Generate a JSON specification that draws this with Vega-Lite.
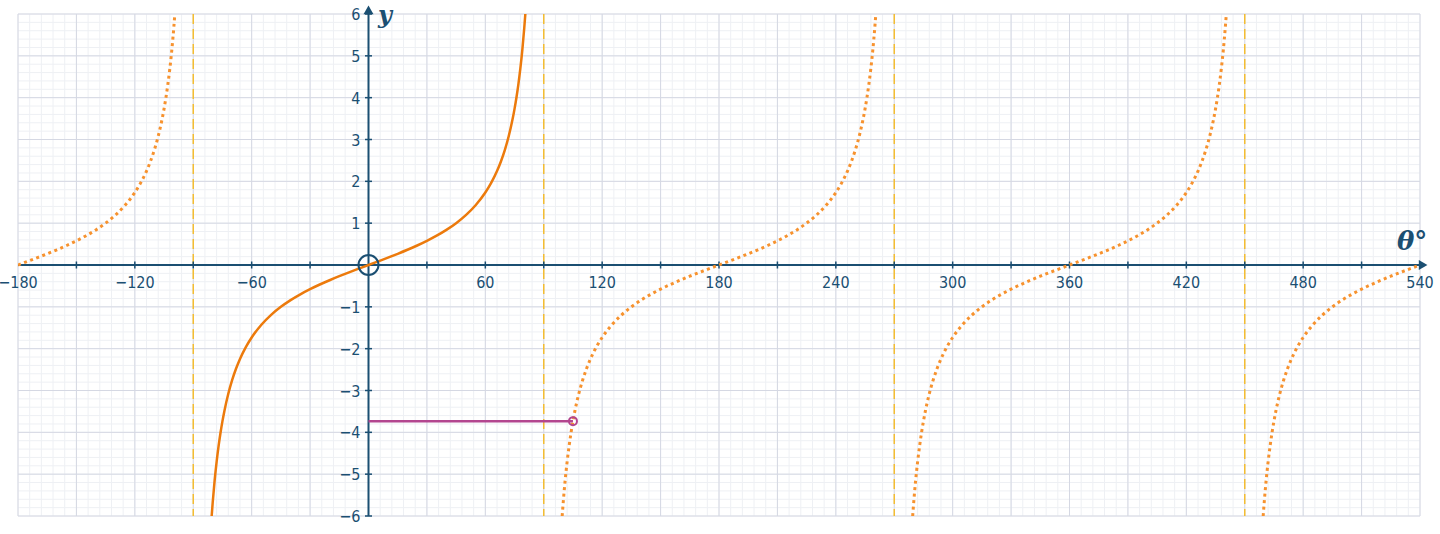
{
  "$schema": "https://vega.github.io/schema/vega-lite/v6.json",
  "width": 1402,
  "height": 502,
  "autosize": {"type": "none"},
  "padding": {"left": 18, "top": 14, "right": 20, "bottom": 18},
  "background": "#ffffff",
  "config": {"view": {"stroke": null}},
  "datasets": {
    "curves": [
      {"x": -180, "y": 0, "b": "A"}, {"x": -175, "y": 0.0875, "b": "A"}, {"x": -170, "y": 0.1763, "b": "A"}, {"x": -165, "y": 0.2679, "b": "A"}, {"x": -160, "y": 0.364, "b": "A"}, {"x": -155, "y": 0.4663, "b": "A"}, {"x": -150, "y": 0.5774, "b": "A"}, {"x": -145, "y": 0.7002, "b": "A"}, {"x": -140, "y": 0.8391, "b": "A"}, {"x": -135, "y": 1, "b": "A"}, {"x": -130, "y": 1.1918, "b": "A"}, {"x": -125, "y": 1.4281, "b": "A"}, {"x": -120, "y": 1.7321, "b": "A"}, {"x": -117, "y": 1.9626, "b": "A"}, {"x": -114, "y": 2.246, "b": "A"}, {"x": -112, "y": 2.4751, "b": "A"}, {"x": -110, "y": 2.7475, "b": "A"}, {"x": -108, "y": 3.0777, "b": "A"}, {"x": -106, "y": 3.4874, "b": "A"}, {"x": -105, "y": 3.7321, "b": "A"}, {"x": -104, "y": 4.0108, "b": "A"}, {"x": -103, "y": 4.3315, "b": "A"}, {"x": -102, "y": 4.7046, "b": "A"}, {"x": -101, "y": 5.1446, "b": "A"}, {"x": -100, "y": 5.6713, "b": "A"}, {"x": -99.5, "y": 5.9758, "b": "A"}, {"x": -99, "y": 6.3138, "b": "A"},
      {"x": 99, "y": -6.3138, "b": "B"}, {"x": 99.5, "y": -5.9758, "b": "B"}, {"x": 100, "y": -5.6713, "b": "B"}, {"x": 101, "y": -5.1446, "b": "B"}, {"x": 102, "y": -4.7046, "b": "B"}, {"x": 103, "y": -4.3315, "b": "B"}, {"x": 104, "y": -4.0108, "b": "B"}, {"x": 105, "y": -3.7321, "b": "B"}, {"x": 106, "y": -3.4874, "b": "B"}, {"x": 108, "y": -3.0777, "b": "B"}, {"x": 110, "y": -2.7475, "b": "B"}, {"x": 112, "y": -2.4751, "b": "B"}, {"x": 114, "y": -2.246, "b": "B"}, {"x": 117, "y": -1.9626, "b": "B"}, {"x": 120, "y": -1.7321, "b": "B"}, {"x": 125, "y": -1.4281, "b": "B"}, {"x": 130, "y": -1.1918, "b": "B"}, {"x": 135, "y": -1, "b": "B"}, {"x": 140, "y": -0.8391, "b": "B"}, {"x": 145, "y": -0.7002, "b": "B"}, {"x": 150, "y": -0.5774, "b": "B"}, {"x": 155, "y": -0.4663, "b": "B"}, {"x": 160, "y": -0.364, "b": "B"}, {"x": 165, "y": -0.2679, "b": "B"}, {"x": 170, "y": -0.1763, "b": "B"}, {"x": 175, "y": -0.0875, "b": "B"}, {"x": 180, "y": 0, "b": "B"}, {"x": 185, "y": 0.0875, "b": "B"}, {"x": 190, "y": 0.1763, "b": "B"}, {"x": 195, "y": 0.2679, "b": "B"}, {"x": 200, "y": 0.364, "b": "B"}, {"x": 205, "y": 0.4663, "b": "B"}, {"x": 210, "y": 0.5774, "b": "B"}, {"x": 215, "y": 0.7002, "b": "B"}, {"x": 220, "y": 0.8391, "b": "B"}, {"x": 225, "y": 1, "b": "B"}, {"x": 230, "y": 1.1918, "b": "B"}, {"x": 235, "y": 1.4281, "b": "B"}, {"x": 240, "y": 1.7321, "b": "B"}, {"x": 243, "y": 1.9626, "b": "B"}, {"x": 246, "y": 2.246, "b": "B"}, {"x": 248, "y": 2.4751, "b": "B"}, {"x": 250, "y": 2.7475, "b": "B"}, {"x": 252, "y": 3.0777, "b": "B"}, {"x": 254, "y": 3.4874, "b": "B"}, {"x": 255, "y": 3.7321, "b": "B"}, {"x": 256, "y": 4.0108, "b": "B"}, {"x": 257, "y": 4.3315, "b": "B"}, {"x": 258, "y": 4.7046, "b": "B"}, {"x": 259, "y": 5.1446, "b": "B"}, {"x": 260, "y": 5.6713, "b": "B"}, {"x": 260.5, "y": 5.9758, "b": "B"}, {"x": 261, "y": 6.3138, "b": "B"},
      {"x": 279, "y": -6.3138, "b": "C"}, {"x": 279.5, "y": -5.9758, "b": "C"}, {"x": 280, "y": -5.6713, "b": "C"}, {"x": 281, "y": -5.1446, "b": "C"}, {"x": 282, "y": -4.7046, "b": "C"}, {"x": 283, "y": -4.3315, "b": "C"}, {"x": 284, "y": -4.0108, "b": "C"}, {"x": 285, "y": -3.7321, "b": "C"}, {"x": 286, "y": -3.4874, "b": "C"}, {"x": 288, "y": -3.0777, "b": "C"}, {"x": 290, "y": -2.7475, "b": "C"}, {"x": 292, "y": -2.4751, "b": "C"}, {"x": 294, "y": -2.246, "b": "C"}, {"x": 297, "y": -1.9626, "b": "C"}, {"x": 300, "y": -1.7321, "b": "C"}, {"x": 305, "y": -1.4281, "b": "C"}, {"x": 310, "y": -1.1918, "b": "C"}, {"x": 315, "y": -1, "b": "C"}, {"x": 320, "y": -0.8391, "b": "C"}, {"x": 325, "y": -0.7002, "b": "C"}, {"x": 330, "y": -0.5774, "b": "C"}, {"x": 335, "y": -0.4663, "b": "C"}, {"x": 340, "y": -0.364, "b": "C"}, {"x": 345, "y": -0.2679, "b": "C"}, {"x": 350, "y": -0.1763, "b": "C"}, {"x": 355, "y": -0.0875, "b": "C"}, {"x": 360, "y": 0, "b": "C"}, {"x": 365, "y": 0.0875, "b": "C"}, {"x": 370, "y": 0.1763, "b": "C"}, {"x": 375, "y": 0.2679, "b": "C"}, {"x": 380, "y": 0.364, "b": "C"}, {"x": 385, "y": 0.4663, "b": "C"}, {"x": 390, "y": 0.5774, "b": "C"}, {"x": 395, "y": 0.7002, "b": "C"}, {"x": 400, "y": 0.8391, "b": "C"}, {"x": 405, "y": 1, "b": "C"}, {"x": 410, "y": 1.1918, "b": "C"}, {"x": 415, "y": 1.4281, "b": "C"}, {"x": 420, "y": 1.7321, "b": "C"}, {"x": 423, "y": 1.9626, "b": "C"}, {"x": 426, "y": 2.246, "b": "C"}, {"x": 428, "y": 2.4751, "b": "C"}, {"x": 430, "y": 2.7475, "b": "C"}, {"x": 432, "y": 3.0777, "b": "C"}, {"x": 434, "y": 3.4874, "b": "C"}, {"x": 435, "y": 3.7321, "b": "C"}, {"x": 436, "y": 4.0108, "b": "C"}, {"x": 437, "y": 4.3315, "b": "C"}, {"x": 438, "y": 4.7046, "b": "C"}, {"x": 439, "y": 5.1446, "b": "C"}, {"x": 440, "y": 5.6713, "b": "C"}, {"x": 440.5, "y": 5.9758, "b": "C"}, {"x": 441, "y": 6.3138, "b": "C"},
      {"x": 459, "y": -6.3138, "b": "D"}, {"x": 459.5, "y": -5.9758, "b": "D"}, {"x": 460, "y": -5.6713, "b": "D"}, {"x": 461, "y": -5.1446, "b": "D"}, {"x": 462, "y": -4.7046, "b": "D"}, {"x": 463, "y": -4.3315, "b": "D"}, {"x": 464, "y": -4.0108, "b": "D"}, {"x": 465, "y": -3.7321, "b": "D"}, {"x": 466, "y": -3.4874, "b": "D"}, {"x": 468, "y": -3.0777, "b": "D"}, {"x": 470, "y": -2.7475, "b": "D"}, {"x": 472, "y": -2.4751, "b": "D"}, {"x": 474, "y": -2.246, "b": "D"}, {"x": 477, "y": -1.9626, "b": "D"}, {"x": 480, "y": -1.7321, "b": "D"}, {"x": 485, "y": -1.4281, "b": "D"}, {"x": 490, "y": -1.1918, "b": "D"}, {"x": 495, "y": -1, "b": "D"}, {"x": 500, "y": -0.8391, "b": "D"}, {"x": 505, "y": -0.7002, "b": "D"}, {"x": 510, "y": -0.5774, "b": "D"}, {"x": 515, "y": -0.4663, "b": "D"}, {"x": 520, "y": -0.364, "b": "D"}, {"x": 525, "y": -0.2679, "b": "D"}, {"x": 530, "y": -0.1763, "b": "D"}, {"x": 535, "y": -0.0875, "b": "D"}, {"x": 540, "y": 0, "b": "D"}
    ],
    "main": [
      {"x": -81, "y": -6.3138}, {"x": -80.5, "y": -5.9758}, {"x": -80, "y": -5.6713}, {"x": -79, "y": -5.1446}, {"x": -78, "y": -4.7046}, {"x": -77, "y": -4.3315}, {"x": -76, "y": -4.0108}, {"x": -75, "y": -3.7321}, {"x": -74, "y": -3.4874}, {"x": -72, "y": -3.0777}, {"x": -70, "y": -2.7475}, {"x": -68, "y": -2.4751}, {"x": -66, "y": -2.246}, {"x": -63, "y": -1.9626}, {"x": -60, "y": -1.7321}, {"x": -55, "y": -1.4281}, {"x": -50, "y": -1.1918}, {"x": -45, "y": -1}, {"x": -40, "y": -0.8391}, {"x": -35, "y": -0.7002}, {"x": -30, "y": -0.5774}, {"x": -25, "y": -0.4663}, {"x": -20, "y": -0.364}, {"x": -15, "y": -0.2679}, {"x": -10, "y": -0.1763}, {"x": -5, "y": -0.0875}, {"x": 0, "y": 0}, {"x": 5, "y": 0.0875}, {"x": 10, "y": 0.1763}, {"x": 15, "y": 0.2679}, {"x": 20, "y": 0.364}, {"x": 25, "y": 0.4663}, {"x": 30, "y": 0.5774}, {"x": 35, "y": 0.7002}, {"x": 40, "y": 0.8391}, {"x": 45, "y": 1}, {"x": 50, "y": 1.1918}, {"x": 55, "y": 1.4281}, {"x": 60, "y": 1.7321}, {"x": 63, "y": 1.9626}, {"x": 66, "y": 2.246}, {"x": 68, "y": 2.4751}, {"x": 70, "y": 2.7475}, {"x": 72, "y": 3.0777}, {"x": 74, "y": 3.4874}, {"x": 75, "y": 3.7321}, {"x": 76, "y": 4.0108}, {"x": 77, "y": 4.3315}, {"x": 78, "y": 4.7046}, {"x": 79, "y": 5.1446}, {"x": 80, "y": 5.6713}, {"x": 80.5, "y": 5.9758}, {"x": 81, "y": 6.3138}
    ]
  },
  "layer": [
    {
      "data": {"values": [-180,-174,-168,-162,-156,-150,-144,-138,-132,-126,-120,-114,-108,-102,-96,-90,-84,-78,-72,-66,-60,-54,-48,-42,-36,-30,-24,-18,-12,-6,0,6,12,18,24,30,36,42,48,54,60,66,72,78,84,90,96,102,108,114,120,126,132,138,144,150,156,162,168,174,180,186,192,198,204,210,216,222,228,234,240,246,252,258,264,270,276,282,288,294,300,306,312,318,324,330,336,342,348,354,360,366,372,378,384,390,396,402,408,414,420,426,432,438,444,450,456,462,468,474,480,486,492,498,504,510,516,522,528,534,540]},
      "mark": {"type": "rule", "stroke": "#eef0f4", "strokeWidth": 1},
      "encoding": {
        "x": {"field": "data", "type": "quantitative", "scale": {"domain": [-180, 540], "nice": false, "zero": false}, "axis": null}
      }
    },
    {
      "data": {"values": [-6,-5.8,-5.6,-5.4,-5.2,-5,-4.8,-4.6,-4.4,-4.2,-4,-3.8,-3.6,-3.4,-3.2,-3,-2.8,-2.6,-2.4,-2.2,-2,-1.8,-1.6,-1.4,-1.2,-1,-0.8,-0.6,-0.4,-0.2,0,0.2,0.4,0.6,0.8,1,1.2,1.4,1.6,1.8,2,2.2,2.4,2.6,2.8,3,3.2,3.4,3.6,3.8,4,4.2,4.4,4.6,4.8,5,5.2,5.4,5.6,5.8,6]},
      "mark": {"type": "rule", "stroke": "#eef0f4", "strokeWidth": 1},
      "encoding": {
        "y": {"field": "data", "type": "quantitative", "scale": {"domain": [-6, 6], "nice": false, "zero": false}, "axis": null}
      }
    },
    {
      "data": {"values": [-180,-150,-120,-90,-60,-30,0,30,60,90,120,150,180,210,240,270,300,330,360,390,420,450,480,510,540]},
      "mark": {"type": "rule", "stroke": "#d5d8e3", "strokeWidth": 1},
      "encoding": {"x": {"field": "data", "type": "quantitative", "axis": null}}
    },
    {
      "data": {"values": [-6,-5,-4,-3,-2,-1,0,1,2,3,4,5,6]},
      "mark": {"type": "rule", "stroke": "#d5d8e3", "strokeWidth": 1},
      "encoding": {"y": {"field": "data", "type": "quantitative", "axis": null}}
    },
    {
      "data": {"values": [-90, 90, 270, 450]},
      "mark": {"type": "rule", "stroke": "#f4bd32", "strokeWidth": 1.5, "strokeDash": [10, 5]},
      "encoding": {"x": {"field": "data", "type": "quantitative", "axis": null}}
    },
    {
      "data": {"values": [{"x1": -180, "x2": 541.6, "y": 0}]},
      "mark": {"type": "rule", "stroke": "#1b4f72", "strokeWidth": 2},
      "encoding": {
        "x": {"field": "x1", "type": "quantitative", "axis": null},
        "x2": {"field": "x2"},
        "y": {"field": "y", "type": "quantitative", "axis": null}
      }
    },
    {
      "data": {"values": [{"x": 0, "y1": -6, "y2": 6.1}]},
      "mark": {"type": "rule", "stroke": "#1b4f72", "strokeWidth": 2},
      "encoding": {
        "x": {"field": "x", "type": "quantitative", "axis": null},
        "y": {"field": "y1", "type": "quantitative", "axis": null},
        "y2": {"field": "y2"}
      }
    },
    {
      "data": {"values": [-150,-120,-90,-60,-30,30,60,90,120,150,180,210,240,270,300,330,360,390,420,450,480,510]},
      "mark": {"type": "tick", "orient": "vertical", "size": 7, "thickness": 1.5, "color": "#1b4f72", "opacity": 1},
      "encoding": {
        "x": {"field": "data", "type": "quantitative", "axis": null},
        "y": {"datum": 0, "type": "quantitative", "axis": null}
      }
    },
    {
      "data": {"values": [-6,-5,-4,-3,-2,-1,1,2,3,4,5,6]},
      "mark": {"type": "tick", "orient": "horizontal", "size": 7, "thickness": 1.5, "color": "#1b4f72", "opacity": 1},
      "encoding": {
        "y": {"field": "data", "type": "quantitative", "axis": null},
        "x": {"datum": 0, "type": "quantitative", "axis": null}
      }
    },
    {
      "data": {"values": [-180,-120,-60,60,120,180,240,300,360,420,480,540]},
      "mark": {"type": "text", "align": "center", "baseline": "alphabetic", "dy": 23, "font": "DejaVu Sans Condensed", "fontSize": 16, "color": "#1b4f72"},
      "encoding": {
        "x": {"field": "data", "type": "quantitative", "axis": null},
        "y": {"datum": 0, "type": "quantitative", "axis": null},
        "text": {"field": "data", "type": "quantitative", "format": "d"}
      }
    },
    {
      "data": {"values": [-6,-5,-4,-3,-2,-1,1,2,3,4,5,6]},
      "mark": {"type": "text", "align": "right", "baseline": "middle", "dx": -8, "dy": 1, "font": "DejaVu Sans Condensed", "fontSize": 16, "color": "#1b4f72"},
      "encoding": {
        "y": {"field": "data", "type": "quantitative", "axis": null},
        "x": {"datum": 0, "type": "quantitative", "axis": null},
        "text": {"field": "data", "type": "quantitative", "format": "d"}
      }
    },
    {
      "data": {"values": [{"x": 541.6, "y": 0, "s": "triangle-right"}, {"x": 0, "y": 6.1, "s": "triangle-up"}]},
      "mark": {"type": "point", "filled": true, "color": "#1b4f72", "size": 100, "opacity": 1},
      "encoding": {
        "x": {"field": "x", "type": "quantitative", "axis": null},
        "y": {"field": "y", "type": "quantitative", "axis": null},
        "shape": {"field": "s", "type": "nominal", "scale": null, "legend": null}
      }
    },
    {
      "data": {"name": "curves"},
      "mark": {"type": "line", "clip": true, "interpolate": "monotone", "stroke": "#f7922e", "strokeWidth": 3, "strokeDash": [3, 3.5]},
      "encoding": {
        "x": {"field": "x", "type": "quantitative", "axis": null},
        "y": {"field": "y", "type": "quantitative", "axis": null},
        "detail": {"field": "b", "type": "nominal"}
      }
    },
    {
      "data": {"name": "main"},
      "mark": {"type": "line", "clip": true, "interpolate": "monotone", "stroke": "#ec7a0c", "strokeWidth": 2.5},
      "encoding": {
        "x": {"field": "x", "type": "quantitative", "axis": null},
        "y": {"field": "y", "type": "quantitative", "axis": null}
      }
    },
    {
      "data": {"values": [{"x1": 0, "x2": 105, "y": -3.7321}]},
      "mark": {"type": "rule", "stroke": "#b3468f", "strokeWidth": 2.5},
      "encoding": {
        "x": {"field": "x1", "type": "quantitative", "axis": null},
        "x2": {"field": "x2"},
        "y": {"field": "y", "type": "quantitative", "axis": null}
      }
    },
    {
      "data": {"values": [{"x": 105, "y": -3.7321}]},
      "mark": {"type": "point", "shape": "circle", "filled": false, "stroke": "#b3468f", "strokeWidth": 2, "size": 64, "opacity": 1},
      "encoding": {
        "x": {"field": "x", "type": "quantitative", "axis": null},
        "y": {"field": "y", "type": "quantitative", "axis": null}
      }
    },
    {
      "data": {"values": [{"x": 0, "y": 0}]},
      "mark": {"type": "point", "shape": "circle", "filled": false, "stroke": "#1b4f72", "strokeWidth": 2, "size": 400, "opacity": 1},
      "encoding": {
        "x": {"field": "x", "type": "quantitative", "axis": null},
        "y": {"field": "y", "type": "quantitative", "axis": null}
      }
    },
    {
      "data": {"values": [{"x": 4.9, "y": 5.79, "t": "y", "fs": 24}, {"x": 528.2, "y": 0.36, "t": "θ°", "fs": 26}]},
      "mark": {"type": "text", "align": "left", "baseline": "alphabetic", "font": "DejaVu Serif", "fontStyle": "italic", "fontWeight": "bold", "color": "#1b4f72"},
      "encoding": {
        "x": {"field": "x", "type": "quantitative", "axis": null},
        "y": {"field": "y", "type": "quantitative", "axis": null},
        "text": {"field": "t"},
        "size": {"field": "fs", "type": "quantitative", "scale": null, "legend": null}
      }
    }
  ]
}
